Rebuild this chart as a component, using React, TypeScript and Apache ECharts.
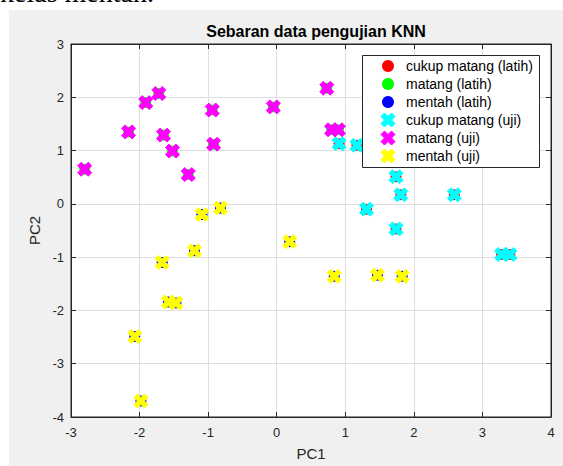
import React, { useEffect, useRef } from "react";
import * as echarts from "echarts";

// PC1 / PC2 coordinates
const cukupMatang: [number, number][] = [
  [0.91, 1.13], [1.17, 1.1], [1.74, 0.51], [1.81, 0.17], [2.59, 0.17],
  [1.31, -0.1], [1.74, -0.47], [3.28, -0.95], [3.4, -0.95],
];
const matang: [number, number][] = [
  [-2.8, 0.65], [-2.16, 1.35], [-1.91, 1.9], [-1.72, 2.07], [-1.65, 1.29],
  [-1.52, 0.99], [-1.29, 0.55], [-0.94, 1.76], [-0.92, 1.12], [-0.05, 1.82],
  [0.73, 2.17], [0.8, 1.39], [0.9, 1.39],
];
const mentah: [number, number][] = [
  [-1.09, -0.2], [-0.82, -0.08], [-1.2, -0.88], [-1.67, -1.1], [-1.58, -1.84],
  [-1.47, -1.86], [-2.07, -2.49], [-1.98, -3.7], [0.19, -0.71], [0.84, -1.36],
  [1.47, -1.34], [1.83, -1.36],
];

const seriesNames = [
  "cukup matang (latih)",
  "matang (latih)",
  "mentah (latih)",
  "cukup matang (uji)",
  "matang (uji)",
  "mentah (uji)",
];
const seriesColors = ["#ff0000", "#00ff00", "#0000ff", "#00ffff", "#ff00ff", "#ffff00"];

const X_PTS: [number, number][] = [
  [2.5, 0], [5, 2.5], [7.5, 0], [10, 2.5], [7.5, 5], [10, 7.5],
  [7.5, 10], [5, 7.5], [2.5, 10], [0, 7.5], [2.5, 5], [0, 2.5],
];
const X_PATH =
  "path://" +
  X_PTS.map((p, i) => (i === 0 ? "M" : "L") + p[0] + "," + p[1]).join(" ") +
  " Z";

const FONT = "Liberation Sans, Arial, Helvetica, sans-serif";
const AXIS_COLOR = "#262626";

export default function App() {
  const ref = useRef<HTMLDivElement>(null);
  useEffect(() => {
    if (!ref.current) return;
    const chart = echarts.init(ref.current, undefined, { renderer: "svg" });

    const groups = [cukupMatang, matang, mentah];
    const series: any[] = [];
    groups.forEach((g, i) => {
      series.push({
        type: "scatter",
        name: seriesNames[i],
        data: g,
        symbol: "circle",
        symbolSize: 11,
        itemStyle: { color: seriesColors[i], opacity: 1 },
        z: 2,
      });
    });
    groups.forEach((g, i) => {
      series.push({
        type: "scatter",
        name: seriesNames[i + 3],
        data: g,
        symbol: X_PATH,
        symbolSize: 14,
        itemStyle: {
          color: seriesColors[i + 3],
          opacity: 1,
          borderColor: seriesColors[i + 3],
          borderWidth: 1,
          borderJoin: "round",
        },
        z: 3,
      });
    });

    // legend drawn as graphic elements
    const lgLeft = 362;
    const lgTop = 55;
    const lgW = 177;
    const lgH = 112;
    const rowY0 = 66;
    const rowStep = 18;
    const legendEls: any[] = [
      {
        type: "rect",
        z: 100,
        shape: { x: lgLeft + 0.5, y: lgTop + 0.5, width: lgW, height: lgH },
        style: { fill: "#ffffff", stroke: AXIS_COLOR, lineWidth: 1 },
      },
    ];
    seriesNames.forEach((name, i) => {
      const cy = rowY0 + i * rowStep;
      const cx = 388;
      if (i < 3) {
        legendEls.push({
          type: "circle",
          z: 101,
          shape: { cx, cy, r: 6 },
          style: { fill: seriesColors[i] },
        });
      } else {
        const s = 1.4;
        legendEls.push({
          type: "polygon",
          z: 101,
          shape: { points: X_PTS.map((p) => [cx + (p[0] - 5) * s, cy + (p[1] - 5) * s]) },
          style: { fill: seriesColors[i], stroke: seriesColors[i], lineWidth: 1, lineJoin: "round" },
        });
      }
      legendEls.push({
        type: "text",
        z: 101,
        x: 406,
        y: cy,
        style: {
          text: name,
          fill: "#000000",
          font: "14px " + FONT,
          textVerticalAlign: "middle",
          verticalAlign: "middle",
        },
      });
    });

    const baseAxis = {
      interval: 1,
      axisLine: { show: true, onZero: false, lineStyle: { color: AXIS_COLOR, width: 1 } },
      axisTick: { show: true, inside: true, length: 5, lineStyle: { color: AXIS_COLOR } },
    };

    chart.setOption({
      animation: false,
      backgroundColor: "#f0f0f0",
      title: {
        text: "Sebaran data pengujian KNN",
        left: 311,
        textAlign: "center",
        top: 18,
        textStyle: { fontFamily: FONT, fontSize: 16, fontWeight: "bold", color: "#000" },
      },
      grid: {
        left: 71,
        right: 12,
        top: 44,
        bottom: 43,
        show: true,
        backgroundColor: "#ffffff",
        borderColor: AXIS_COLOR,
        borderWidth: 1,
      },
      xAxis: [
        {
          ...baseAxis,
          type: "value",
          position: "bottom",
          min: -3,
          max: 4,
          name: "PC1",
          nameLocation: "middle",
          nameGap: 29,
          nameTextStyle: { fontFamily: FONT, fontSize: 15, color: AXIS_COLOR },
          axisLabel: { fontFamily: FONT, fontSize: 13, color: AXIS_COLOR, margin: 9 },
          splitLine: { show: true, lineStyle: { color: "#dedede", width: 1 } },
        },
        {
          ...baseAxis,
          type: "value",
          position: "top",
          min: -3,
          max: 4,
          axisLabel: { show: false },
          splitLine: { show: false },
        },
      ],
      yAxis: [
        {
          ...baseAxis,
          type: "value",
          position: "left",
          min: -4,
          max: 3,
          name: "PC2",
          nameLocation: "middle",
          nameGap: 22,
          nameTextStyle: { fontFamily: FONT, fontSize: 15, color: AXIS_COLOR },
          axisLabel: { fontFamily: FONT, fontSize: 13, color: AXIS_COLOR, margin: 7 },
          splitLine: { show: true, lineStyle: { color: "#dedede", width: 1 } },
        },
        {
          ...baseAxis,
          type: "value",
          position: "right",
          min: -4,
          max: 3,
          axisLabel: { show: false },
          splitLine: { show: false },
        },
      ],
      graphic: [
        {
          type: "rect",
          z: 100,
          shape: { x: 0, y: 0, width: 563, height: 10 },
          style: { fill: "#ffffff" },
        },
        {
          type: "rect",
          z: 100,
          shape: { x: 0, y: 0, width: 9, height: 466 },
          style: { fill: "#ffffff" },
        },
        {
          type: "text",
          z: 101,
          x: 0,
          y: 6,
          style: {
            text: "kelas mentah.",
            fill: "#000000",
            font: "28px Liberation Serif, Times New Roman, serif",
            textVerticalAlign: "bottom",
            verticalAlign: "bottom",
          },
        },
        ...legendEls,
      ],
      series,
    });
    return () => chart.dispose();
  }, []);
  return (
    <div
      ref={ref}
      style={{ position: "fixed", left: 0, top: 0, width: 563, height: 466 }}
    />
  );
}
